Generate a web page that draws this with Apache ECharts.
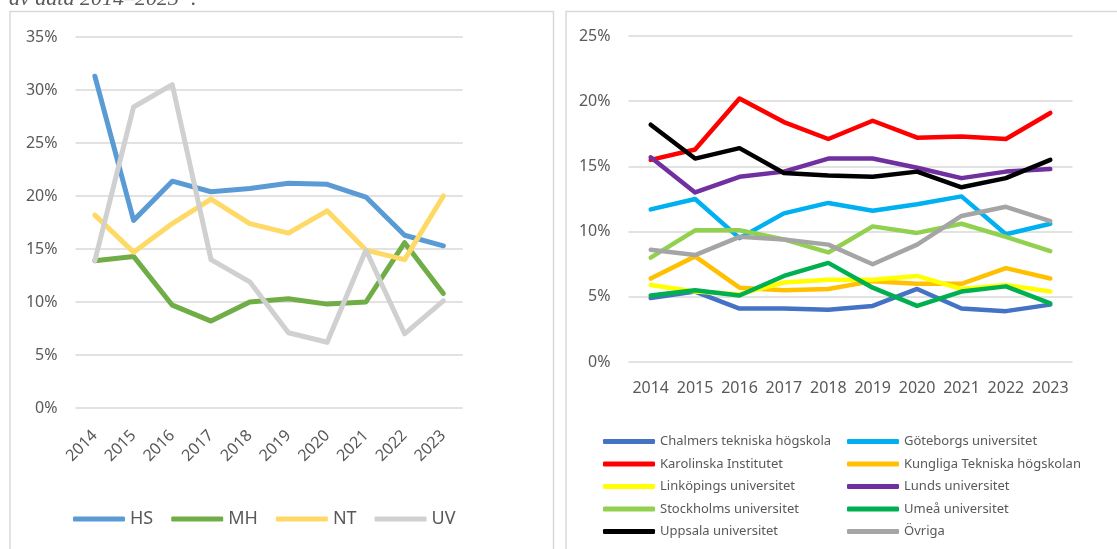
<!DOCTYPE html>
<html><head><meta charset="utf-8">
<script src="https://cdn.jsdelivr.net/npm/echarts@6/dist/echarts.min.js"></script>
<style>html,body{margin:0;padding:0;background:#fff}#c{width:1117px;height:549px}</style>
</head><body><div id="c"></div>
<script>
const years = ['2014','2015','2016','2017','2018','2019','2020','2021','2022','2023'];
const leftTicks = [0,5,10,15,20,25,30,35];
const rightTicks = [0,5,10,15,20,25];

// Left panel (percent)
const HS = [31.3,17.7,21.4,20.4,20.7,21.2,21.1,19.9,16.3,15.3];
const MH = [13.9,14.3,9.7,8.2,10.0,10.3,9.8,10.0,15.6,10.8];
const NT = [18.2,14.7,17.4,19.7,17.4,16.5,18.6,14.9,14.0,20.0];
const UV = [13.9,28.4,30.5,14.0,11.9,7.1,6.2,14.9,7.0,10.1];

// Right panel (percent)
const chalmers = [4.9,5.4,4.1,4.1,4.0,4.3,5.6,4.1,3.9,4.4];
const goteborg = [11.7,12.5,9.5,11.4,12.2,11.6,12.1,12.7,9.8,10.6];
const karolinska = [15.5,16.3,20.2,18.4,17.1,18.5,17.2,17.3,17.1,19.1];
const kth = [6.4,8.1,5.7,5.5,5.6,6.2,6.0,6.0,7.2,6.4];
const linkoping = [5.9,5.4,5.2,6.1,6.3,6.3,6.6,5.6,5.9,5.4];
const lund = [15.7,13.0,14.2,14.6,15.6,15.6,14.9,14.1,14.6,14.8];
const stockholm = [8.0,10.1,10.1,9.4,8.4,10.4,9.9,10.6,9.6,8.5];
const umea = [5.1,5.5,5.1,6.6,7.6,5.7,4.3,5.4,5.8,4.5];
const uppsala = [18.2,15.6,16.4,14.5,14.3,14.2,14.6,13.4,14.1,15.5];
const ovriga = [8.6,8.2,9.6,9.4,9.0,7.5,9.0,11.2,11.9,10.8];

const leftNames = ['HS','MH','NT','UV'];
const leftData = [HS,MH,NT,UV];
const leftColors = ['#5B9BD5','#70AD47','#FFD966','#D0D0D0'];

const rightNames = ['Chalmers tekniska högskola','Göteborgs universitet','Karolinska Institutet','Kungliga Tekniska högskolan','Linköpings universitet','Lunds universitet','Stockholms universitet','Umeå universitet','Uppsala universitet','Övriga'];
const rightData = [chalmers,goteborg,karolinska,kth,linkoping,lund,stockholm,umea,uppsala,ovriga];
const rightColors = ['#4472C4','#00B0F0','#FF0000','#FFC000','#FFFF00','#7030A0','#92D050','#00B050','#000000','#A5A5A5'];

const FONT = 'Noto Sans';
const TXT = '#595959';
const GRIDC = '#D9D9D9';

const series = [];
leftNames.forEach((n,i)=>series.push({name:n,type:'line',xAxisIndex:0,yAxisIndex:0,data:leftData[i],symbol:'none',lineStyle:{width:5,color:leftColors[i],cap:'round',join:'round'},itemStyle:{color:leftColors[i]},z:2}));
rightNames.forEach((n,i)=>series.push({name:n,type:'line',xAxisIndex:1,yAxisIndex:1,data:rightData[i],symbol:'none',lineStyle:{width:4.5,color:rightColors[i],cap:'round',join:'round'},itemStyle:{color:rightColors[i]},z:2}));

const legendCommon = {icon:'roundRect',itemWidth:52,itemHeight:5,selectedMode:false};

const option = {
  animation:false,
  backgroundColor:'#fff',
  graphic:[
    {type:'rect',shape:{x:10,y:11.5,width:543.5,height:560},style:{fill:'none',stroke:'#D9D9D9',lineWidth:1.5},z:0},
    {type:'rect',shape:{x:566,y:11.5,width:600,height:560},style:{fill:'none',stroke:'#D9D9D9',lineWidth:1.5},z:0},
    {type:'text',left:9,top:-12,style:{text:'av data 2014–2023 ¹.',font:'italic 22px "Liberation Serif"',fill:'#595959'},z:5}
  ],
  grid:[
    {left:75.5,right:654.3,top:37,bottom:141},
    {left:628.5,right:44.5,top:36,bottom:187}
  ],
  xAxis:[
    {gridIndex:0,type:'category',data:years,axisLine:{show:false},axisTick:{show:false},
     axisLabel:{rotate:45,interval:0,margin:25,fontFamily:FONT,fontSize:16,color:TXT}},
    {gridIndex:1,type:'category',data:years,axisLine:{show:false},axisTick:{show:false},
     axisLabel:{interval:0,margin:18,fontFamily:FONT,fontSize:16,color:TXT}}
  ],
  yAxis:[
    {gridIndex:0,type:'value',min:leftTicks[0],max:leftTicks[leftTicks.length-1],interval:5,
     axisLine:{show:false},axisTick:{show:false},splitLine:{lineStyle:{color:GRIDC,width:1.5}},
     axisLabel:{formatter:'{value}%',margin:18,fontFamily:FONT,fontSize:16,color:TXT}},
    {gridIndex:1,type:'value',min:rightTicks[0],max:rightTicks[rightTicks.length-1],interval:5,
     axisLine:{show:false},axisTick:{show:false},splitLine:{lineStyle:{color:GRIDC,width:1.5}},
     axisLabel:{formatter:'{value}%',margin:18,fontFamily:FONT,fontSize:16,color:TXT}}
  ],
  legend:[
    Object.assign({},legendCommon,{data:leftNames,left:68,top:505,itemGap:18,textStyle:{fontFamily:FONT,color:TXT,fontSize:18}}),
    Object.assign({},legendCommon,{data:[rightNames[0],rightNames[2],rightNames[4],rightNames[6],rightNames[8]],orient:'vertical',left:598,top:430,itemGap:9.5,textStyle:{fontFamily:FONT,color:TXT,fontSize:13}}),
    Object.assign({},legendCommon,{data:[rightNames[1],rightNames[3],rightNames[5],rightNames[7],rightNames[9]],orient:'vertical',left:842,top:430,itemGap:9.5,textStyle:{fontFamily:FONT,color:TXT,fontSize:13}})
  ],
  series:series
};
const chart = echarts.init(document.getElementById('c'),null,{renderer:'canvas'});
chart.setOption(option);
</script></body></html>
